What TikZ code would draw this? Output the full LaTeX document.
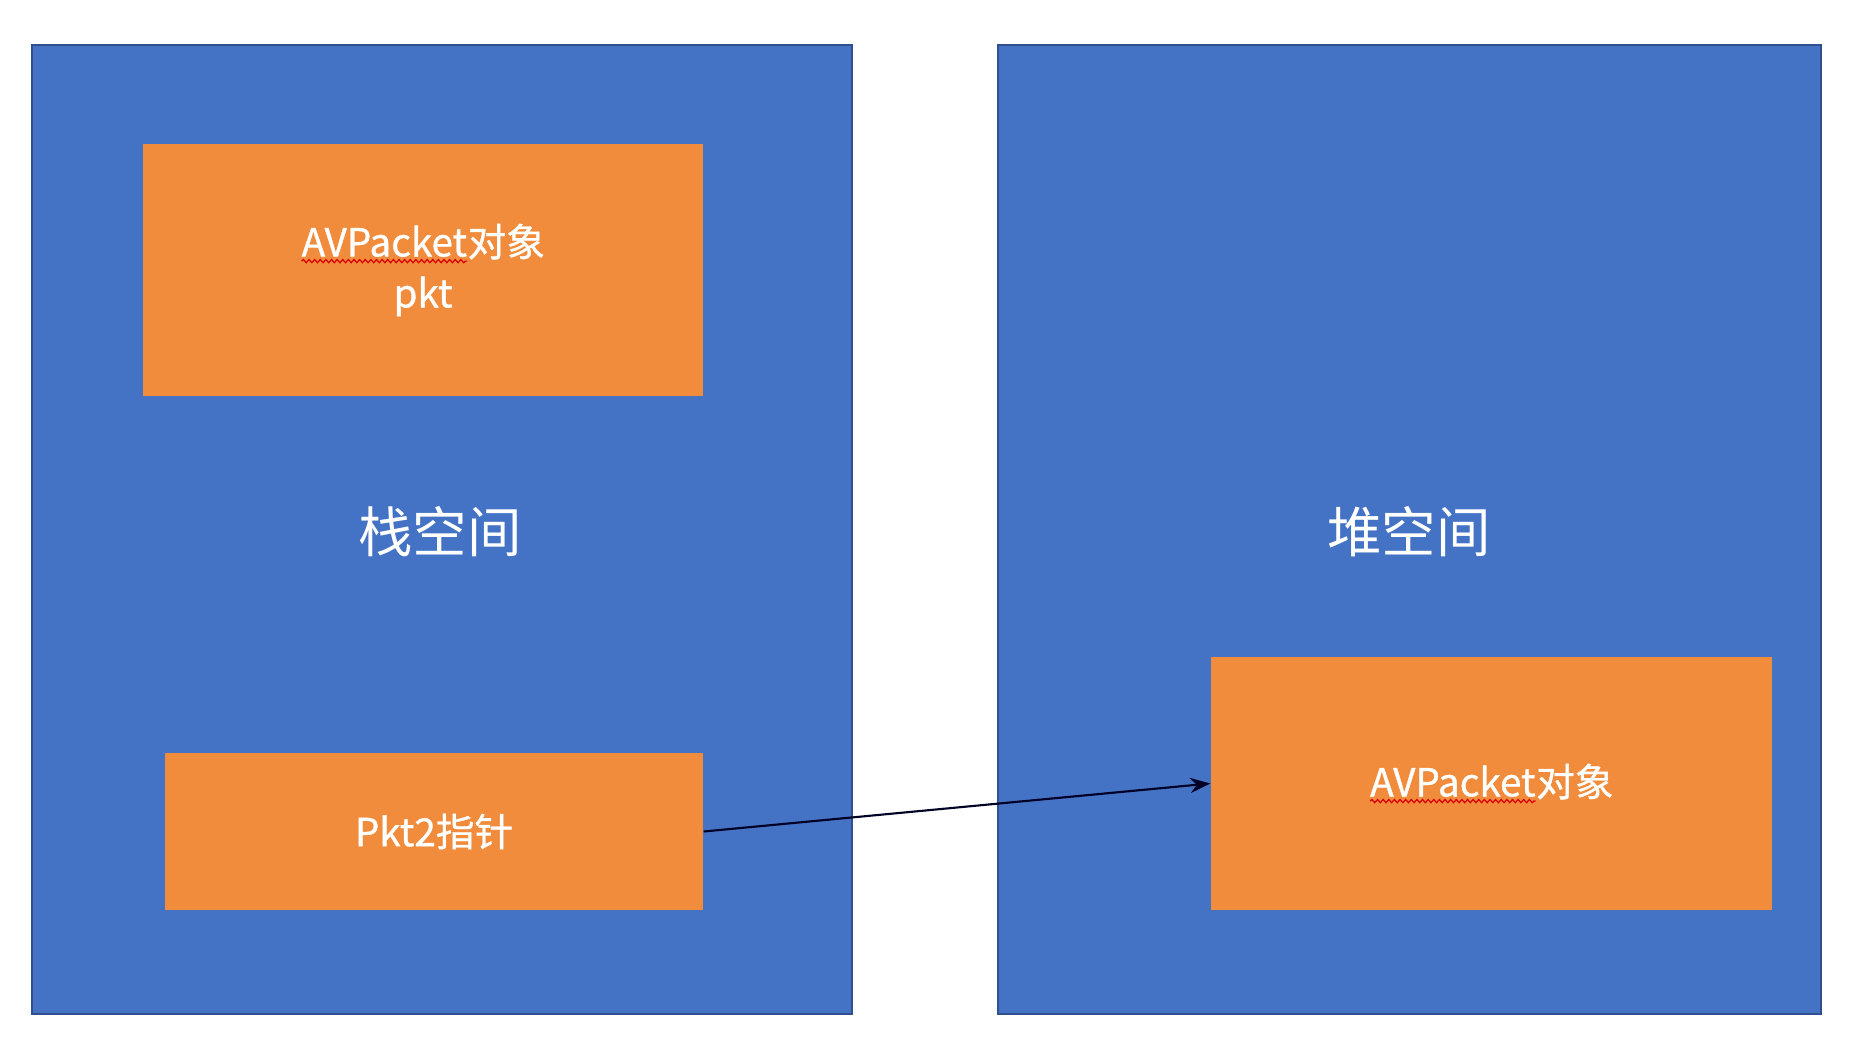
\documentclass[tikz,border=0pt]{standalone}
\usepackage{fontspec}
\setmainfont{Noto Sans CJK SC}
\newfontfamily\objfont{Noto Sans CJK SC}[FakeBold=0.9]
\usepackage{tikz}
\usetikzlibrary{arrows.meta,positioning,decorations.pathmorphing}
\definecolor{memblue}{HTML}{4472C4}
\definecolor{memedge}{HTML}{2F4F8F}
\definecolor{objorange}{HTML}{F08C3C}
\newcommand{\redwave}[1]{\tikz[baseline=(w.base)]{\node[inner sep=0pt,outer sep=0pt,minimum width=0pt,minimum height=0pt,fill=none] (w) {#1};
  \draw[red!85!black,line width=.35pt,decorate,decoration={snake,amplitude=.45pt,segment length=1.6pt}] ([yshift=-1.2pt]w.south west) -- ([yshift=-1.2pt]w.south east);}}

\begin{document}
\begin{tikzpicture}[>=Stealth,
  space/.style={draw=memedge,line width=.8pt,fill=memblue,minimum width=8.2cm,minimum height=9.69cm,inner sep=0pt},
  obj/.style={fill=objorange,text=white,inner sep=0pt,align=center,font=\objfont\fontsize{11}{14.5}\selectfont},
  spacelabel/.style={text=white,font=\fontsize{15.5}{18}\selectfont}]
\useasboundingbox[fill=white] (0,0) rectangle (18.66,10.45);
% the two memory regions
\node[space] (stack) at (4.42,5.155) {};
\node[space,minimum width=8.23cm] (heap) at (14.095,5.155) {};
\node[spacelabel] (stacklbl) at (4.40,5.13) {栈空间};
\node[spacelabel] (heaplbl) at (14.09,5.13) {堆空间};
% objects
\node[obj,minimum width=5.6cm,minimum height=2.52cm] (pkt) at (4.23,7.75) {\redwave{AVPacket}对象\\pkt};
\node[obj,minimum width=5.38cm,minimum height=1.57cm] (ptr) at (4.34,2.135) {Pkt2指针};
\node[obj,minimum width=5.61cm,minimum height=2.53cm] (heapobj) at (14.915,2.615) {\redwave{AVPacket}对象};
\draw[->,black!85!blue,line width=.6pt] (ptr.east) -- (heapobj.west);
\end{tikzpicture}
\end{document}
